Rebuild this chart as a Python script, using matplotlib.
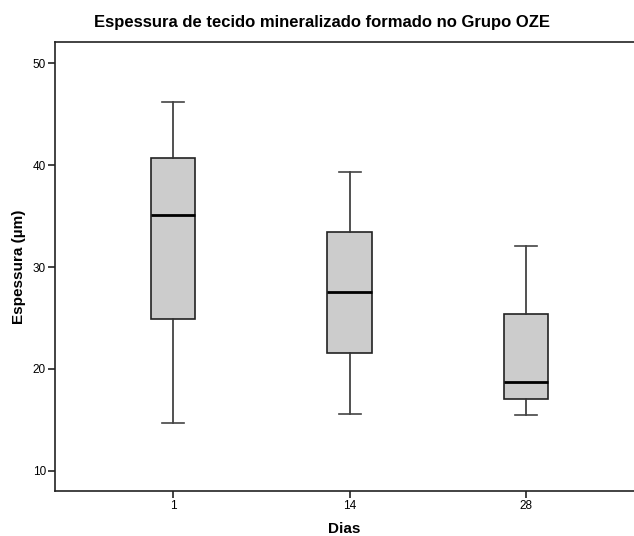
import matplotlib
matplotlib.use("Agg")
import matplotlib.pyplot as plt

plt.rcParams['font.family'] = ['Liberation Sans', 'DejaVu Sans']

categories = ["1", "14", "28"]
whisker_low = [14.65, 15.6, 15.45]
q1 = [24.9, 21.55, 17.05]
median = [35.1, 27.5, 18.7]
q3 = [40.7, 33.4, 25.35]
whisker_high = [46.2, 39.3, 32.05]

stats = []
for i, c in enumerate(categories):
    stats.append(dict(label=c, whislo=whisker_low[i], q1=q1[i], med=median[i],
                      q3=q3[i], whishi=whisker_high[i], fliers=[]))

fig = plt.figure(figsize=(6.34, 5.36), dpi=100)
ax = fig.add_axes([55/634, 45/536, 1 - 55/634, (491-42)/536])

ax.bxp(stats, positions=[1, 2, 3], widths=0.251, patch_artist=True,
       showfliers=False,
       boxprops=dict(facecolor="#cccccc", edgecolor="#222222", linewidth=1.2),
       whiskerprops=dict(color="#333333", linewidth=1.2),
       capprops=dict(color="#444444", linewidth=1.2),
       medianprops=dict(color="black", linewidth=2.0),
       capwidths=0.125)

ax.set_xlim(0.331, 3.612)
ax.set_ylim(8.0, 52.1)
ax.set_yticks([10, 20, 30, 40, 50])
ax.set_xticks([1, 2, 3])
ax.set_xticklabels(categories)
ax.spines['right'].set_visible(False)
for s in ['left', 'bottom', 'top']:
    ax.spines[s].set_linewidth(1.2)
    ax.spines[s].set_color("#222222")
ax.tick_params(direction='out', length=5, width=1.2, labelsize=8.5, color="#222222", pad=1.5)

fig.text(344/634, 1 - 529/536, "Dias", ha='center', va='center',
         fontsize=11, fontweight='bold')
fig.text(19/634, 1 - 267/536, "Espessura (µm)", ha='center', va='center',
         rotation=90, fontsize=11, fontweight='bold')
fig.text(322/634, 1 - 22/536, "Espessura de tecido mineralizado formado no Grupo OZE",
         ha='center', va='center', fontsize=12, fontweight='bold')

fig.savefig("out.png", dpi=100)
